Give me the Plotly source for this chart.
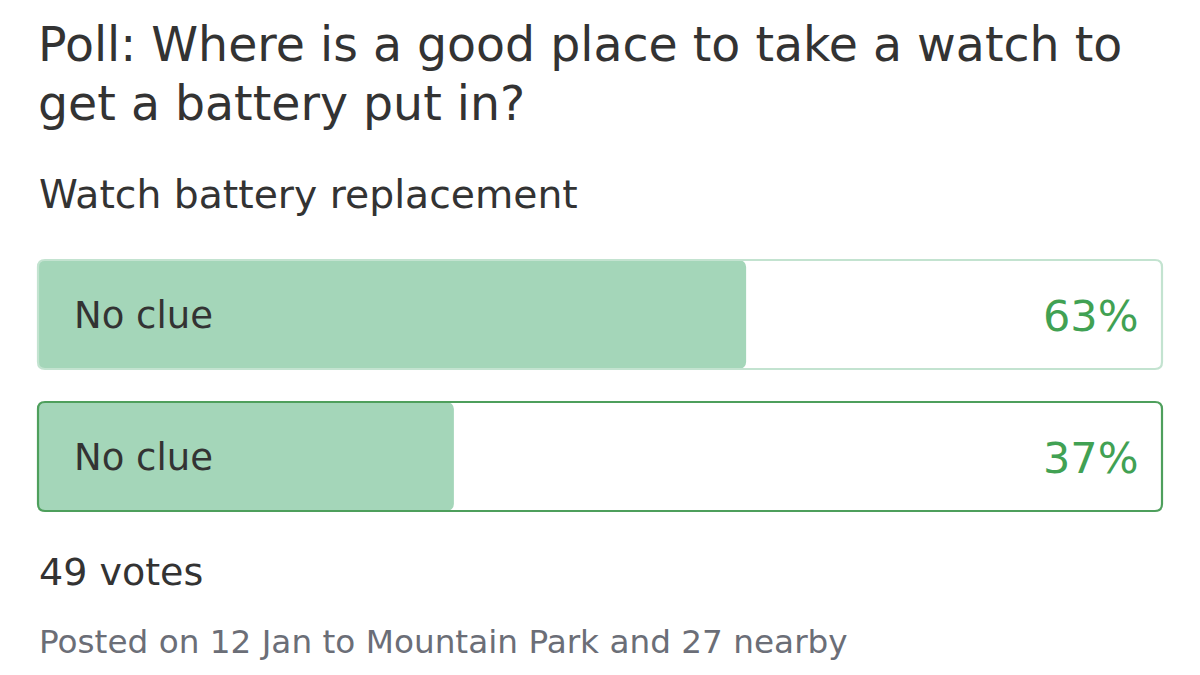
import plotly.graph_objects as go

# ---- data ----
title_lines = ["Poll: Where is a good place to take a watch to", "get a battery put in?"]
subtitle = "Watch battery replacement"
options = ["No clue", "No clue"]
percents = [63, 37]
votes_text = "49 votes"
footer = "Posted on 12 Jan to Mountain Park and 27 nearby"
highlight = [False, True]

# ---- styling ----
OFF = 8                        # default page body margin in the html
W, H = 1200 - 2 * OFF, 675 - 2 * OFF
FONT = "DejaVu Sans, Verdana, sans-serif"
FILL = "#a4d6b9"
PCT_COLOR = "#41a153"
BORDER_LIGHT = "#c3e3d0"
BORDER_DARK = "#4e9f5c"
TEXT = "#333333"
GREY = "#6b6e77"

ML, MR, MT, MB = 22, 14, 243, 139
PX_L, PX_R = 38 - OFF, 1162 - OFF      # outline left/right pixel in figure coords
UNIT_X = (PX_R - PX_L) / 100.0
ROW_PITCH = 142.0
CENTER_TOP = 314.5 - OFF
plot_top, plot_bot = MT, H - MB
xr = [-(PX_L - ML) / UNIT_X, 100 + (W - MR - PX_R) / UNIT_X]
yr = [-(plot_bot - (CENTER_TOP + ROW_PITCH)) / ROW_PITCH, 1 + (CENTER_TOP - plot_top) / ROW_PITCH]
BAR_H = 109 / ROW_PITCH

ypos = [len(options) - 1 - i for i in range(len(options))]

fig = go.Figure()
fig.add_trace(go.Bar(
    orientation="h", y=ypos, x=[-p for p in percents], base=percents,
    width=BAR_H, marker=dict(color=FILL, line=dict(width=0), cornerradius=7),
    hoverinfo="skip", showlegend=False,
))

r = 7
rx, ry = r / UNIT_X, r / ROW_PITCH
shapes = []
for yc, hl in zip(ypos, highlight):
    t, b = yc + BAR_H / 2, yc - BAR_H / 2
    x0, x1 = 0, 100
    path = (f"M {x0+rx},{t} L {x1-rx},{t} Q {x1},{t} {x1},{t-ry} L {x1},{b+ry} "
            f"Q {x1},{b} {x1-rx},{b} L {x0+rx},{b} Q {x0},{b} {x0},{b+ry} "
            f"L {x0},{t-ry} Q {x0},{t} {x0+rx},{t} Z")
    shapes.append(dict(type="path", xref="x", yref="y", path=path,
                       line=dict(color=BORDER_DARK if hl else BORDER_LIGHT, width=2.2),
                       fillcolor="rgba(0,0,0,0)", layer="above"))

def px_x(px):
    return (px - OFF - ML) / (W - ML - MR)

def px_y(py):
    return (plot_bot - (py - OFF)) / (plot_bot - plot_top)

ann = []
def text(s, x_px, baseline_px, size, color):
    ann.append(dict(text=s, xref="paper", yref="paper", x=px_x(x_px),
                    y=px_y(baseline_px - 0.36 * size), xanchor="left", yanchor="middle",
                    showarrow=False, font=dict(family=FONT, size=size, color=color)))

text(title_lines[0], 36, 62, 47.4, TEXT)
text(title_lines[1], 36, 121, 47.4, TEXT)
text(subtitle, 37, 209, 39.3, TEXT)
text(votes_text, 37, 586, 38, TEXT)
text(footer, 37, 654, 32.7, GREY)

for yc, opt, p in zip(ypos, options, percents):
    ann.append(dict(text=opt, xref="x", yref="y", x=0, y=yc, xshift=34, yshift=-1,
                    xanchor="left", yanchor="middle", showarrow=False,
                    font=dict(family=FONT, size=37, color=TEXT)))
    ann.append(dict(text=f"{p}%", xref="x", yref="y", x=100, y=yc, xshift=-21, yshift=-1,
                    xanchor="right", yanchor="middle", showarrow=False,
                    font=dict(family=FONT, size=43, color=PCT_COLOR)))

fig.update_layout(
    width=W, height=H, margin=dict(l=ML, r=MR, t=MT, b=MB),
    paper_bgcolor="white", plot_bgcolor="white",
    xaxis=dict(range=xr, visible=False, fixedrange=True),
    yaxis=dict(range=yr, visible=False, fixedrange=True),
    barmode="overlay", shapes=shapes, annotations=ann, hovermode=False,
)
fig.write_html("out.html", config={"displayModeBar": False})
